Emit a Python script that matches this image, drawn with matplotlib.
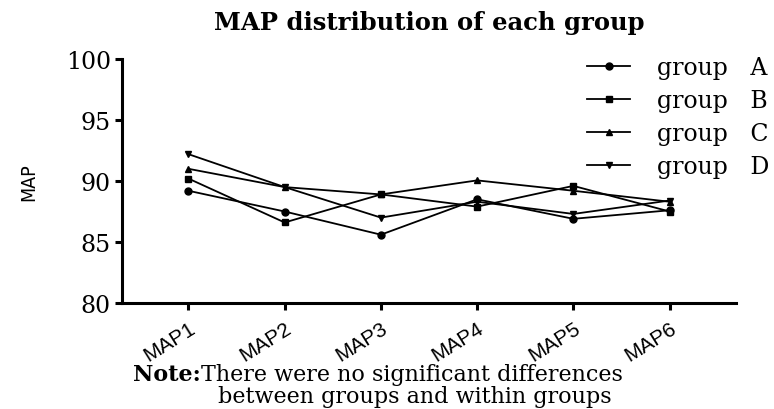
import numpy as np
import matplotlib
matplotlib.use("Agg")
import matplotlib.pyplot as plt
from matplotlib.lines import Line2D

# Data
categories = ["MAP1", "MAP2", "MAP3", "MAP4", "MAP5", "MAP6"]
group_a = [89.2, 87.5, 85.6, 88.5, 86.9, 87.6]
group_b = [90.2, 86.6, 88.9, 87.9, 89.6, 87.5]
group_c = [91.0, 89.5, 88.9, 90.05, 89.2, 88.3]
group_d = [92.2, 89.5, 87.0, 88.3, 87.3, 88.4]
series = [("group   A", group_a, "o"), ("group   B", group_b, "s"),
          ("group   C", group_c, "^"), ("group   D", group_d, "v")]
yticks = [80, 85, 90, 95, 100]

W, H = 774, 410
serif = ["DejaVu Serif"]
sans = ["Liberation Sans", "DejaVu Sans"]

fig = plt.figure(figsize=(W / 100, H / 100), dpi=100)
ax = fig.add_axes([122 / W, 1 - 304 / H, 614 / W, 244 / H])

x = np.arange(1, len(categories) + 1)
for name, vals, mk in series:
    ax.plot(x, vals, color="black", lw=1.3, marker=mk, markersize=5, label=name)

ax.set_xlim(0.31, 6.69)
ax.set_ylim(80, 100)
ax.set_xticks(x)
ax.set_xticklabels(categories, rotation=32, ha="right", rotation_mode="anchor",
                   family=sans, fontsize=15)
ax.set_yticks(yticks)
ax.set_yticklabels([str(v) for v in yticks], family=serif, fontsize=17)

for side in ["top", "right"]:
    ax.spines[side].set_visible(False)
for side in ["left", "bottom"]:
    ax.spines[side].set_linewidth(2.2)
ax.tick_params(width=2.2, length=5, direction="out")
ax.tick_params(axis="x", pad=6)
ax.tick_params(axis="y", pad=3)

ax.set_ylabel("MAP", family=["DejaVu Sans"], fontstretch="condensed",
              fontsize=14, labelpad=20)

handles = [Line2D([0], [0], color="black", lw=1.3, marker=mk, markersize=5)
           for _, _, mk in series]
ax.legend(handles, [s[0] for s in series], loc="upper left",
          bbox_to_anchor=(566 / W, 1 - 36 / H), bbox_transform=fig.transFigure,
          frameon=False, prop={"family": serif, "size": 17},
          handlelength=1.8, labelspacing=0.42, handletextpad=1.15)

fig.text(429 / W, 1 - 23 / H, "MAP distribution of each group", ha="center",
         va="center", family=serif, fontsize=17.5, fontweight="bold")

note = fig.text(133 / W, 1 - 375 / H, "Note:", ha="left", va="center",
                family=serif, fontsize=16, fontweight="bold")
fig.canvas.draw()
bb = note.get_window_extent()
fig.text(bb.x1 / W, 1 - 375 / H, "There were no significant differences",
         ha="left", va="center", family=serif, fontsize=16)
fig.text(218 / W, 1 - 397 / H, "between groups and within groups",
         ha="left", va="center", family=serif, fontsize=16)

fig.savefig("out.png", dpi=100)
